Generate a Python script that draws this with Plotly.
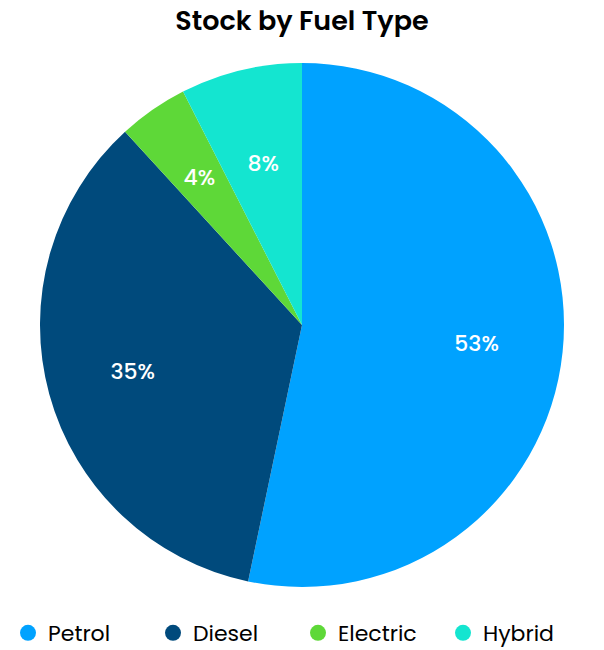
import plotly.graph_objects as go

labels = ["Petrol", "Diesel", "Electric", "Hybrid"]
shares = [53.3, 34.9, 4.3, 7.5]
colors = ["#00A2FF", "#004A7C", "#5ED838", "#14E5D0"]

FONT = "Poppins, Inter, Open Sans, sans-serif"
W, H = 604, 650
OFF = 8  # page body margin shifts the figure by 8px
CX, CY, R = 302 - OFF, 325 - OFF, 262


def square_domain(radius):
    return dict(x=[(CX - radius) / W, (CX + radius) / W],
                y=[1 - (CY + radius) / H, 1 - (CY - radius) / H])


PCT = "%{percent:.0%}"
clear = ["rgba(0,0,0,0)"] * len(labels)
txtfont = dict(color="white", size=22, family=FONT, weight=500)

# filled pie, no text
pie = go.Pie(
    labels=labels, values=shares,
    marker=dict(colors=colors, line=dict(width=0)),
    sort=False, direction="clockwise", rotation=0,
    textinfo="none", showlegend=False, hoverinfo="label+percent",
    domain=square_domain(R),
)

# transparent donuts on top, only to place the % labels at ~2/3 of the radius
ring_big = go.Pie(
    labels=labels, values=shares, hole=0.34,
    marker=dict(colors=clear, line=dict(width=0)),
    sort=False, direction="clockwise", rotation=0,
    texttemplate=[PCT, PCT, "", ""], textposition="inside",
    insidetextorientation="horizontal", insidetextfont=txtfont,
    showlegend=False, hoverinfo="skip",
    domain=square_domain(R),
)
ring_small = go.Pie(
    labels=labels, values=shares, hole=0.45,
    marker=dict(colors=clear, line=dict(width=0)),
    sort=False, direction="clockwise", rotation=0,
    texttemplate=["", "", PCT, PCT], textposition="inside",
    insidetextorientation="horizontal", insidetextfont=txtfont,
    showlegend=False, hoverinfo="skip",
    domain=square_domain(0.78 * R),
)

# empty scatter traces only to get round legend markers
legend_traces = [
    go.Scatter(x=[None], y=[None], mode="markers", name=lab,
               marker=dict(color=c, size=22, symbol="circle"))
    for lab, c in zip(labels, colors)
]

fig = go.Figure(data=[pie, ring_big, ring_small] + legend_traces)
fig.update_layout(
    width=W,
    height=H,
    title=dict(text="Stock by Fuel Type", x=CX / W, xanchor="center",
               yref="container", y=1 - (21 - OFF) / H, yanchor="middle",
               font=dict(size=27, color="black", family=FONT, weight=600)),
    margin=dict(l=0, r=0, t=0, b=0),
    paper_bgcolor="white",
    plot_bgcolor="white",
    xaxis=dict(visible=False),
    yaxis=dict(visible=False),
    uniformtext=dict(minsize=22, mode="show"),
    legend=dict(orientation="h", x=(298 - OFF) / W, xanchor="center",
                y=1 - (633 - OFF) / H, yanchor="middle",
                font=dict(size=22, color="black", family=FONT),
                entrywidth=100, itemsizing="trace"),
)

fig.write_html("out.html")
